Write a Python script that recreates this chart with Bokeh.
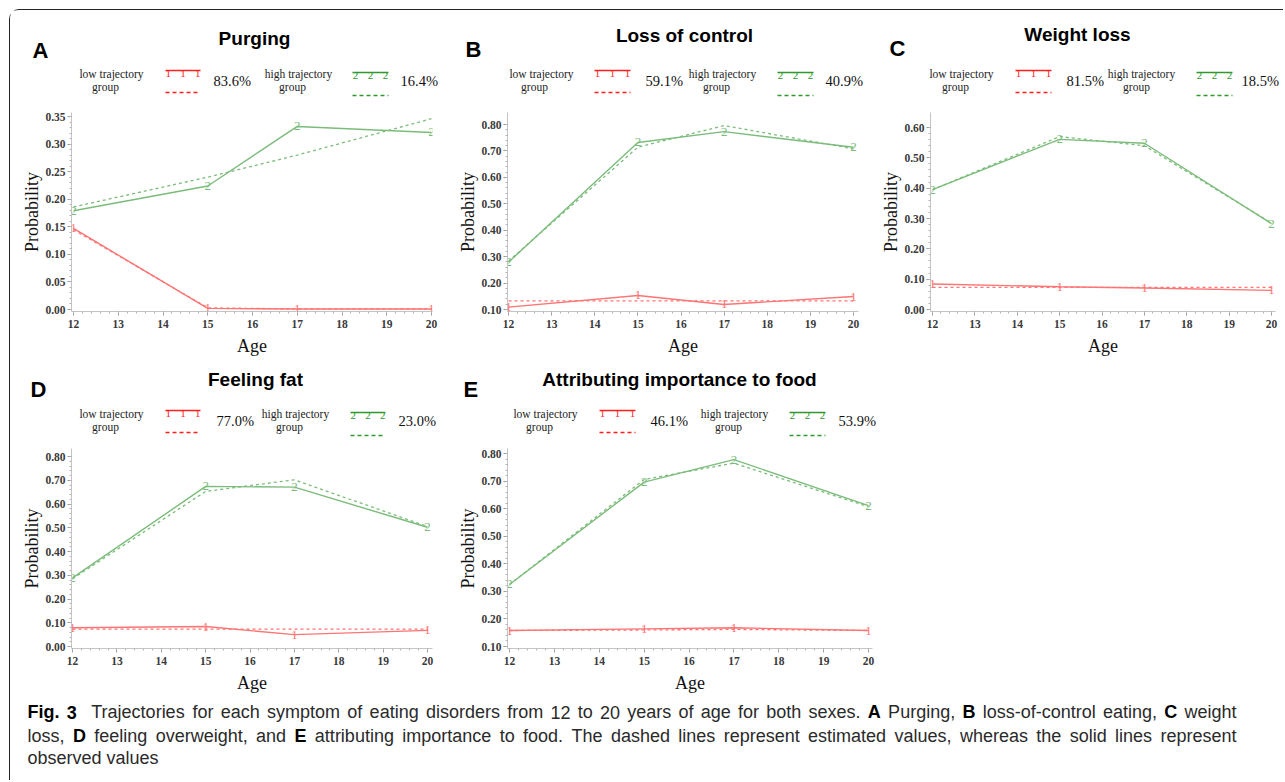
from bokeh.plotting import figure
from bokeh.layouts import column, row
from bokeh.models import Range1d, FixedTicker, PrintfTickFormatter
from bokeh.embed import file_html
from bokeh.resources import INLINE
from bokeh.core.properties import value
import numpy as np

# ---------------- data ----------------
ages = [12, 15, 17, 20]
age_ticks = [12, 13, 14, 15, 16, 17, 18, 19, 20]

purging_low_obs = [0.147, 0.002, 0.001, 0.001]
purging_low_est = [0.145, 0.003, 0.001, 0.001]
purging_high_obs = [0.179, 0.224, 0.332, 0.321]
purging_high_est = [0.186, 0.240, 0.280, 0.346]

loss_low_obs = [0.109, 0.153, 0.119, 0.149]
loss_low_est = [0.133, 0.133, 0.133, 0.133]
loss_high_obs = [0.279, 0.732, 0.773, 0.714]
loss_high_est = [0.283, 0.714, 0.796, 0.708]

weight_low_obs = [0.084, 0.075, 0.071, 0.063]
weight_low_est = [0.073, 0.073, 0.073, 0.073]
weight_high_obs = [0.395, 0.561, 0.548, 0.283]
weight_high_est = [0.395, 0.570, 0.540, 0.285]

fat_low_obs = [0.079, 0.084, 0.050, 0.068]
fat_low_est = [0.073, 0.073, 0.073, 0.073]
fat_high_obs = [0.289, 0.674, 0.671, 0.502]
fat_high_est = [0.285, 0.653, 0.702, 0.505]

food_low_obs = [0.158, 0.164, 0.168, 0.158]
food_low_est = [0.158, 0.160, 0.162, 0.158]
food_high_obs = [0.325, 0.696, 0.778, 0.611]
food_high_est = [0.325, 0.706, 0.765, 0.607]

panel_titles = ["Purging", "Loss of control", "Weight loss", "Feeling fat",
                "Attributing importance to food"]
panel_letters = ["A", "B", "C", "D", "E"]
low_shares = ["83.6%", "59.1%", "81.5%", "77.0%", "46.1%"]
high_shares = ["16.4%", "40.9%", "18.5%", "23.0%", "53.9%"]
low_label = ["low trajectory", "group"]
high_label = ["high trajectory", "group"]

yticks_purging = [0.00, 0.05, 0.10, 0.15, 0.20, 0.25, 0.30, 0.35]
yticks_loss = [0.10, 0.20, 0.30, 0.40, 0.50, 0.60, 0.70, 0.80]
yticks_weight = [0.00, 0.10, 0.20, 0.30, 0.40, 0.50, 0.60]
yticks_fat = [0.00, 0.10, 0.20, 0.30, 0.40, 0.50, 0.60, 0.70, 0.80]
yticks_food = [0.10, 0.20, 0.30, 0.40, 0.50, 0.60, 0.70, 0.80]

caption_lines = [
    [("Fig.", True), ("3", True), ("Trajectories", False), ("for", False), ("each", False),
     ("symptom", False), ("of", False), ("eating", False), ("disorders", False), ("from", False),
     ("12", False), ("to", False), ("20", False), ("years", False), ("of", False), ("age", False),
     ("for", False), ("both", False), ("sexes.", False), ("A", True), ("Purging,", False),
     ("B", True), ("loss-of-control", False), ("eating,", False), ("C", True), ("weight", False)],
    [("loss,", False), ("D", True), ("feeling", False), ("overweight,", False), ("and", False),
     ("E", True), ("attributing", False), ("importance", False), ("to", False), ("food.", False),
     ("The", False), ("dashed", False), ("lines", False), ("represent", False),
     ("estimated", False), ("values,", False), ("whereas", False), ("the", False),
     ("solid", False), ("lines", False), ("represent", False)],
    [("observed", False), ("values", False)],
]

series = [
    (purging_low_obs, purging_low_est, purging_high_obs, purging_high_est, yticks_purging, 0.01),
    (loss_low_obs, loss_low_est, loss_high_obs, loss_high_est, yticks_loss, 0.02),
    (weight_low_obs, weight_low_est, weight_high_obs, weight_high_est, yticks_weight, 0.02),
    (fat_low_obs, fat_low_est, fat_high_obs, fat_high_est, yticks_fat, 0.02),
    (food_low_obs, food_low_est, food_high_obs, food_high_est, yticks_food, 0.02),
]

# ---------------- layout (page pixels, origin = top-left of window) ----------------
ORG = 10          # content origin after css margin + border
RIGHT = 1283
ROW1_HEAD = (10, 106)
ROW1_PLOT = (106, 364)
ROW2_HEAD = (364, 443)
ROW2_PLOT = (443, 698)
CAPTION = (698, 780)

LAYOUT = [
    dict(xbox=(10, 440), frame=(71, 432, 112, 311), xmap=((12, 73), (20, 431)),
         ymap=((0.35, 116), (0.0, 309)), title=(254, 45), letter=(32, 58),
         leg=(111, 105, 165, 200, 213, 298, 292, 352, 388, 400)),
    dict(xbox=(440, 870), frame=(507, 858, 112, 311), xmap=((12, 508), (20, 853)),
         ymap=((0.8, 124), (0.1, 309)), title=(684, 42), letter=(465, 57),
         leg=(541, 534, 594, 630, 645, 722, 716, 777, 813, 825)),
    dict(xbox=(870, 1283), frame=(930, 1275, 112, 311), xmap=((12, 932), (20, 1271)),
         ymap=((0.6, 127), (0.0, 309)), title=(1077, 41), letter=(889, 56),
         leg=(961, 955, 1015, 1051, 1066, 1141, 1136, 1196, 1232, 1241)),
    dict(xbox=(10, 440), frame=(71, 432, 448, 648), xmap=((12, 72), (20, 427)),
         ymap=((0.8, 456), (0.0, 646)), title=(255, 386), letter=(30, 397),
         leg=(111, 105, 165, 200, 216, 295, 289, 350, 385, 398)),
    dict(xbox=(440, 890), frame=(507, 872, 448, 648), xmap=((12, 509), (20, 868)),
         ymap=((0.8, 453), (0.1, 646)), title=(679, 386), letter=(463, 397),
         leg=(545, 539, 599, 635, 650, 734, 728, 789, 825, 838)),
]

SERIF = "Liberation Serif"
SANS = "Liberation Sans"
RED_LINE = "#ff7474"
GREEN_LINE = "#7bbc7b"
RED_KEY = "#ff1f1f"
GREEN_KEY = "#2f992f"


def blank_canvas(y0, y1):
    p = figure(width=RIGHT - ORG, height=y1 - y0, x_range=Range1d(ORG, RIGHT),
               y_range=Range1d(y1, y0), min_border_left=0, min_border_right=0,
               min_border_top=0, min_border_bottom=0, x_axis_type=None, y_axis_type=None,
               output_backend="svg", toolbar_location=None, title=None)
    p.outline_line_color = None
    p.xgrid.visible = False
    p.ygrid.visible = False
    p.background_fill_color = "white"
    p.border_fill_color = "white"
    return p


def add_text(p, xs, ys, texts, font, size, style="normal", align="left", color="#111111",
             from_baseline=True):
    # positions are given as baselines; draw with a "middle" anchor (cap centre)
    px = float(size.replace("px", ""))
    k = 0.35 if font == SANS else 0.34
    yy = [y - k * px for y in ys] if from_baseline else list(ys)
    p.text(x=xs, y=yy, text=texts, text_font=value(font), text_font_size=size,
           text_font_style=style, text_align=align, text_baseline="middle", text_color=color)


def make_header(indices, y0, y1, dy):
    h = blank_canvas(y0, y1)
    for i in indices:
        spec = LAYOUT[i]
        tx, tb = spec["title"]
        add_text(h, [tx], [tb], [panel_titles[i]], SANS, "19px", "bold", "center", "#000000")
        lx, lb = spec["letter"]
        add_text(h, [lx], [lb], [panel_letters[i]], SANS, "22px", "bold", "left", "#000000")
        low_c, low_g, r0, r1, pct1, high_c, high_g, g0, g1, pct2 = spec["leg"]
        add_text(h, [low_c, low_g, high_c, high_g], [77 + dy, 90 + dy, 77 + dy, 90 + dy],
                 [low_label[0], low_label[1], high_label[0], high_label[1]],
                 SERIF, "11.5px", align="center", color="#222222")
        add_text(h, [pct1, pct2], [85 + dy, 85 + dy], [low_shares[i], high_shares[i]],
                 SERIF, "14.5px", align="left", color="#111111")
        h.line([r0, r1], [70 + dy, 70 + dy], line_color=RED_KEY, line_width=1.5)
        h.line([r0, r1], [92 + dy, 92 + dy], line_color=RED_KEY, line_width=1.5, line_dash="4 3")
        h.line([g0, g1], [72 + dy, 72 + dy], line_color=GREEN_KEY, line_width=1.5)
        h.line([g0, g1], [95 + dy, 95 + dy], line_color=GREEN_KEY, line_width=1.5,
               line_dash="4 3")
        fr = [0.08, 0.5, 0.92]
        add_text(h, [r0 + (r1 - r0) * f for f in fr], [73 + dy] * 3, ["1"] * 3, SERIF, "11px",
                 align="center", color=RED_KEY, from_baseline=False)
        add_text(h, [g0 + (g1 - g0) * f for f in fr], [75 + dy] * 3, ["2"] * 3, SERIF, "11px",
                 align="center", color=GREEN_KEY, from_baseline=False)
    return h


def make_panel(i, y0, y1):
    spec = LAYOUT[i]
    low_obs, low_est, high_obs, high_est, yticks, ystep = series[i]
    bx0, bx1 = spec["xbox"]
    fl, fr, ft, fb = spec["frame"]
    (xa, pxa), (xb, pxb) = spec["xmap"]
    (ya, pya), (yb, pyb) = spec["ymap"]
    kx = (pxb - pxa) / (xb - xa)
    ky = (pyb - pya) / (yb - ya)

    def X(px):
        return xa + (px - pxa) / kx

    def Y(py):
        return ya + (py - pya) / ky

    p = figure(width=bx1 - bx0, height=y1 - y0, x_range=Range1d(X(fl), X(fr)),
               y_range=Range1d(Y(fb), Y(ft)),
               min_border_left=fl - bx0, min_border_right=bx1 - fr,
               min_border_top=ft - y0, min_border_bottom=y1 - fb,
               output_backend="svg", toolbar_location=None, title=None)
    p.outline_line_color = None
    p.xgrid.visible = False
    p.ygrid.visible = False
    p.background_fill_color = "white"
    p.border_fill_color = "white"

    p.xaxis.ticker = FixedTicker(ticks=age_ticks,
                                 minor_ticks=list(np.round(np.arange(12, 20.001, 0.2), 3)))
    p.yaxis.ticker = FixedTicker(ticks=yticks,
                                 minor_ticks=list(np.round(np.arange(yticks[0], yticks[-1] + 1e-9,
                                                                     ystep), 4)))
    p.yaxis.formatter = PrintfTickFormatter(format="%.2f")
    p.xaxis.axis_label = "Age"
    p.yaxis.axis_label = "Probability"
    for ax in (p.xaxis[0], p.yaxis[0]):
        ax.axis_line_color = "#c4c4c4"
        ax.major_tick_line_color = "#9a9a9a"
        ax.minor_tick_line_color = "#b5b5b5"
        ax.major_tick_out = 4
        ax.major_tick_in = 0
        ax.minor_tick_out = 2
        ax.minor_tick_in = 0
        ax.major_label_text_font = SERIF
        ax.major_label_text_font_size = "11.5px"
        ax.major_label_text_font_style = "bold"
        ax.major_label_text_color = "#3a3a3a"
        ax.axis_label_text_font = SERIF
        ax.axis_label_text_font_size = "18px"
        ax.axis_label_text_font_style = "normal"
        ax.axis_label_text_color = "#111111"
    p.yaxis.major_label_standoff = 2
    p.xaxis.major_label_standoff = 4
    p.xaxis.axis_label_standoff = 5
    p.yaxis.axis_label_standoff = 0

    p.line(ages, high_est, line_color=GREEN_LINE, line_width=1.3, line_dash="3 3")
    p.line(ages, low_est, line_color=RED_LINE, line_width=1.3, line_dash="3 3")
    p.line(ages, high_obs, line_color=GREEN_LINE, line_width=1.4)
    p.line(ages, low_obs, line_color=RED_LINE, line_width=1.4)
    add_text(p, ages, high_obs, ["2"] * len(ages), SERIF, "13px", align="center",
             color=GREEN_LINE, from_baseline=False)
    add_text(p, ages, low_obs, ["1"] * len(ages), SERIF, "13px", align="center",
             color=RED_LINE, from_baseline=False)
    return p


# ---------------- caption (justified like the journal layout) ----------------
HELV = dict(a=556, b=556, c=500, d=556, e=556, f=278, g=556, h=556, i=222, j=222, k=500, l=222,
            m=833, n=556, o=556, p=556, q=556, r=333, s=500, t=278, u=556, v=500, w=722, x=500,
            y=500, z=500, A=667, B=667, C=722, D=722, E=667, F=611, P=667, T=611)
HELV.update({"0": 556, "1": 556, "2": 556, "3": 556, ".": 278, ",": 278, "-": 333, " ": 278})
HELV_B = dict(A=722, B=722, C=722, D=722, E=667, F=611, i=278, g=611)
HELV_B.update({".": 278, "3": 556})
CAP_SIZE = 18.0


def word_w(word, bold):
    tbl = HELV_B if bold else HELV
    return sum((tbl.get(ch, HELV.get(ch, 556))) for ch in word) / 1000.0 * CAP_SIZE


cap = blank_canvas(*CAPTION)
cap_left, cap_right = 27, 1236
cap_base = [718, 742, 764]
for li, words in enumerate(caption_lines):
    widths = [word_w(w, b) for w, b in words]
    weights = [2.0 if (li == 0 and k == 1) else 1.0 for k in range(len(words) - 1)]
    if li < 2:
        gap = (cap_right - cap_left - sum(widths)) / sum(weights)
    else:
        gap = HELV[" "] / 1000.0 * CAP_SIZE
    x = cap_left
    xs_n, xs_b, tn, tb = [], [], [], []
    for k, (w, b) in enumerate(words):
        (xs_b if b else xs_n).append(x)
        (tb if b else tn).append(w)
        x += widths[k] + (gap * weights[k] if k < len(weights) else 0)
    size = "%gpx" % CAP_SIZE
    if tn:
        add_text(cap, xs_n, [cap_base[li]] * len(tn), tn, SANS, size, color="#2a2a2a")
    if tb:
        add_text(cap, xs_b, [cap_base[li]] * len(tb), tb, SANS, size, "bold", color="#000000")

head1 = make_header([0, 1, 2], *ROW1_HEAD, 0)
head2 = make_header([3, 4], *ROW2_HEAD, 340)
row1 = row(make_panel(0, *ROW1_PLOT), make_panel(1, *ROW1_PLOT), make_panel(2, *ROW1_PLOT))
row2 = row(make_panel(3, *ROW2_PLOT), make_panel(4, *ROW2_PLOT))

layout = column(head1, row1, head2, row2, cap,
                styles={"margin-left": "9px", "margin-top": "9px",
                        "border-top": "1px solid #222", "border-left": "1px solid #222",
                        "border-top-left-radius": "10px"})

open("out.html", "w").write(file_html(layout, INLINE, title="Trajectories"))
